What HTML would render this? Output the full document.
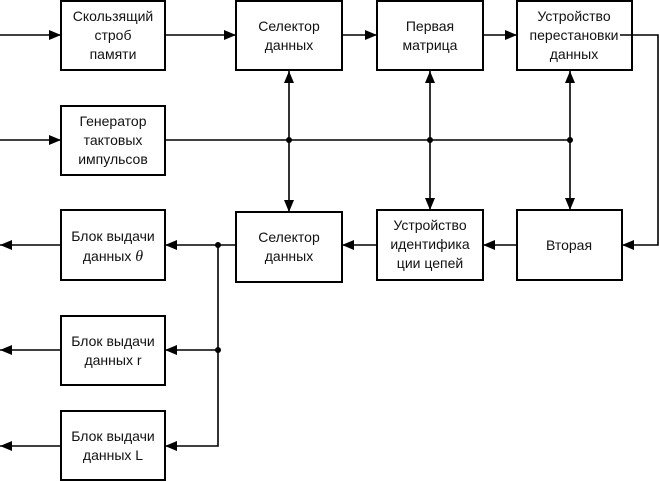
<!DOCTYPE html>
<html><head><meta charset="utf-8"><style>
body{margin:0;background:#fff}
svg{display:block}
text{font-family:"Liberation Sans",Arial,sans-serif;font-size:14px;fill:#111;text-anchor:middle}
</style></head><body>
<svg width="659" height="482" viewBox="0 0 659 482" xmlns="http://www.w3.org/2000/svg">
<defs>
<marker id="a" viewBox="0 0 12 10" refX="12" refY="5" markerWidth="12" markerHeight="10" markerUnits="userSpaceOnUse" orient="auto-start-reverse"><path d="M0,0L12,5L0,10z" fill="#000"/></marker>
</defs>
<g fill="none" stroke="#000" stroke-width="2">
<rect x="61" y="1" width="104" height="69"/>
<rect x="236" y="1" width="106" height="69"/>
<rect x="377" y="1" width="106" height="69"/>
<rect x="517" y="1" width="115" height="69"/>
<rect x="61" y="106" width="104" height="69"/>
<rect x="236" y="212" width="106" height="70"/>
<rect x="377" y="210" width="106" height="70"/>
<rect x="517" y="210" width="105" height="70"/>
<rect x="61" y="210" width="104" height="70"/>
<rect x="61" y="316" width="104" height="69"/>
<rect x="61" y="411" width="104" height="69"/>
</g>
<g fill="none" stroke="#000" stroke-width="1.6">
<line x1="0" y1="35" x2="61" y2="35" marker-end="url(#a)"/>
<line x1="0" y1="140" x2="61" y2="140" marker-end="url(#a)"/>
<line x1="165" y1="35" x2="236" y2="35" marker-end="url(#a)"/>
<line x1="342" y1="35" x2="377" y2="35" marker-end="url(#a)"/>
<line x1="483" y1="35" x2="517" y2="35" marker-end="url(#a)"/>
<polyline points="620,35 658,35 658,245 622,245" marker-end="url(#a)"/>
<line x1="165" y1="140" x2="570" y2="140"/>
<line x1="289" y1="71" x2="289" y2="212" marker-start="url(#a)" marker-end="url(#a)"/>
<line x1="430" y1="71" x2="430" y2="210" marker-start="url(#a)" marker-end="url(#a)"/>
<line x1="570" y1="71" x2="570" y2="210" marker-start="url(#a)" marker-end="url(#a)"/>
<line x1="517" y1="245" x2="483" y2="245" marker-end="url(#a)"/>
<line x1="377" y1="245" x2="342" y2="245" marker-end="url(#a)"/>
<line x1="236" y1="245" x2="165" y2="245" marker-end="url(#a)"/>
<polyline points="218,245 218,446 165,446" marker-end="url(#a)"/>
<line x1="218" y1="350" x2="165" y2="350" marker-end="url(#a)"/>
<line x1="61" y1="245" x2="0" y2="245" marker-end="url(#a)"/>
<line x1="61" y1="350" x2="0" y2="350" marker-end="url(#a)"/>
<line x1="61" y1="446" x2="0" y2="446" marker-end="url(#a)"/>
</g>
<g fill="#000">
<circle cx="289" cy="140" r="3"/><circle cx="430" cy="140" r="3"/><circle cx="570" cy="140" r="3"/>
<circle cx="218" cy="245" r="3"/><circle cx="218" cy="350" r="3"/>
</g>
<text x="113" y="21">Скользящий</text><text x="113" y="40">строб</text><text x="113" y="59">памяти</text>
<text x="289" y="31">Селектор</text><text x="289" y="50">данных</text>
<text x="430" y="31">Первая</text><text x="430" y="50">матрица</text>
<text x="574" y="21">Устройство</text><text x="574" y="40">перестановки</text><text x="574" y="59">данных</text>
<text x="113" y="126">Генератор</text><text x="113" y="145">тактовых</text><text x="113" y="164">импульсов</text>
<text x="289" y="242">Селектор</text><text x="289" y="261">данных</text>
<text x="430" y="230">Устройство</text><text x="430" y="249">идентифика</text><text x="430" y="268">ции цепей</text>
<text x="569" y="250">Вторая</text>
<text x="113" y="241">Блок выдачи</text><text x="113" y="261">данных <tspan font-family="Liberation Serif" font-style="italic" font-size="16">θ</tspan></text>
<text x="113" y="346">Блок выдачи</text><text x="113" y="365">данных r</text>
<text x="113" y="441">Блок выдачи</text><text x="113" y="460">данных L</text>
</svg>
</body></html>
